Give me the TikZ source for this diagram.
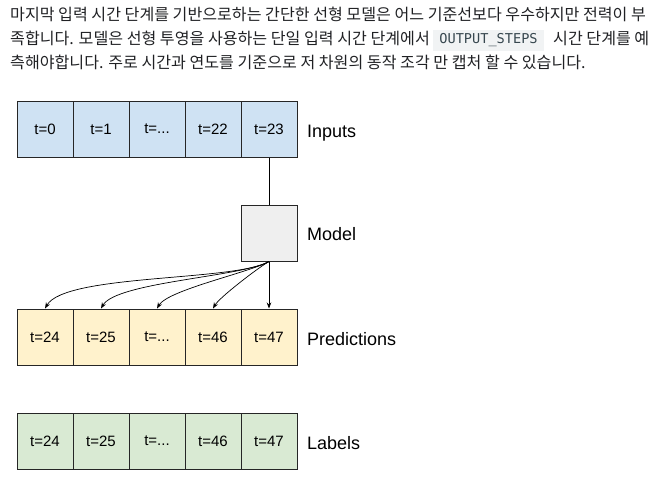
\documentclass[tikz,border=0pt]{standalone}
\usepackage{fontspec}
\setmainfont{Liberation Sans}
\setmonofont{DejaVu Sans Mono}
\newfontfamily\krfont{Noto Sans CJK KR}
\usetikzlibrary{arrows.meta,positioning}
\definecolor{inblue}{HTML}{CFE2F3}
\definecolor{predyellow}{HTML}{FFF2CC}
\definecolor{labgreen}{HTML}{D9EAD3}
\definecolor{modelgray}{HTML}{EFEFEF}
\definecolor{textgray}{HTML}{202124}
\definecolor{codebg}{HTML}{F1F3F4}
\definecolor{codetext}{HTML}{37474F}
\newcommand\tdots{...}
\tikzset{
  cell/.style={draw=black!85, line width=1pt, minimum size=56pt, inner sep=0pt,
    font=\fontsize{15}{18}\selectfont},
  rowlabel/.style={anchor=base west, inner sep=0pt, font=\fontsize{18}{22}\selectfont},
  para/.style={anchor=base west, inner sep=0pt, text=textgray,
    font=\krfont\fontsize{16.1}{18}\selectfont},
  codebox/.style={fill=codebg, text=codetext, inner sep=0pt,
    minimum width=111pt, minimum height=21pt,
    font=\ttfamily\fontsize{13.6}{16}\selectfont},
}

\begin{document}
\begin{tikzpicture}[x=1pt,y=1pt,>={Stealth[length=6pt,width=4.5pt]}]
  \useasboundingbox (0,0) rectangle (655,-499);
  % Text above the diagram
  \node[para] (line1) at (10,-20.5) {마지막 입력 시간 단계를 기반으로하는 간단한 선형 모델은 어느 기준선보다 우수하지만 전력이 부};
  \node[para] (line2) at (10,-44.5) {족합니다. 모델은 선형 투영을 사용하는 단일 입력 시간 단계에서};
  \node[codebox] (code) at (488.5,-40.5) {OUTPUT\_STEPS};
  \node[para] (line2b) at (553,-44.5) {시간 단계를 예};
  \node[para] (line3) at (10,-68.5) {측해야합니다. 주로 시간과 연도를 기준으로 저 차원의 동작 조각 만 캡처 할 수 있습니다.};
  % Inputs
  \foreach \v [count=\i from 0] in {0,1,\tdots,22,23}
    \node[cell, fill=inblue] (in\i) at (45+56*\i,-129) {t=\v};
  \node[rowlabel] (inlabel) at (307,-137.5) {Inputs};
  % Model
  \node[cell, fill=modelgray] (model) at (269,-233) {};
  \node[rowlabel] (modellabel) at (307,-240) {Model};
  \draw[line width=0.8pt] (in4.south) -- (model.north);
  % Predictions
  \foreach \v [count=\i from 0] in {24,25,\tdots,46,47}
    \node[cell, fill=predyellow] (pr\i) at (45+56*\i,-337) {t=\v};
  \node[rowlabel] (prlabel) at (307,-345.5) {Predictions};
  % Arrows from the model to each prediction
  \foreach \i in {0,...,3}
    \draw[->,line width=0.7pt] (model.south) to[out=-150,in=60,looseness=0.45] (pr\i.north);
  \draw[->,line width=0.7pt] (model.south) -- (pr4.north);
  % Labels
  \foreach \v [count=\i from 0] in {24,25,\tdots,46,47}
    \node[cell, fill=labgreen] (lb\i) at (45+56*\i,-441) {t=\v};
  \node[rowlabel] (lblabel) at (307,-449.5) {Labels};
\end{tikzpicture}
\end{document}
